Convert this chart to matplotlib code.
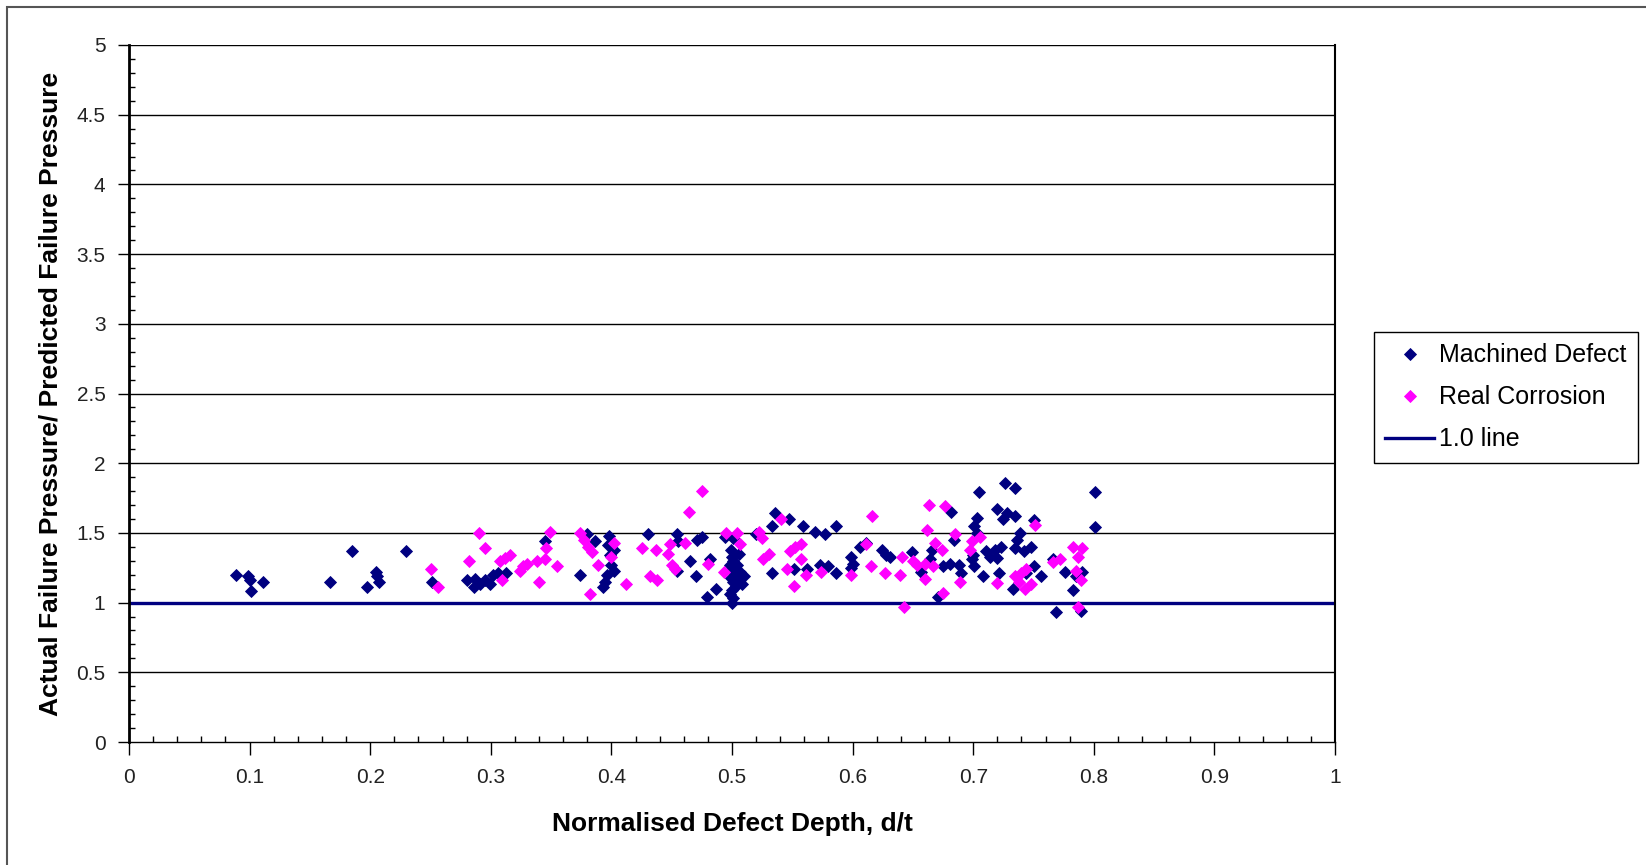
"""
Actual / predicted failure pressure against normalised defect depth,
machined defects vs real corrosion, with the 1.0 reference line.
Writes out.png.
"""

import matplotlib
matplotlib.use("Agg")
import matplotlib.pyplot as plt
from matplotlib.patches import Rectangle
from matplotlib.ticker import MultipleLocator

# ---------------------------------------------------------------
# Data
# ---------------------------------------------------------------
machined_x = [
    0.089, 0.099, 0.100, 0.101, 0.111, 0.167, 0.185, 0.197, 0.205, 0.206,
    0.207, 0.230, 0.251, 0.280, 0.287, 0.286, 0.291, 0.295, 0.299, 0.302,
    0.306, 0.313, 0.345, 0.380, 0.386, 0.374, 0.393, 0.395, 0.396, 0.398,
    0.397, 0.399, 0.400, 0.402, 0.402, 0.430, 0.454, 0.455, 0.454, 0.465,
    0.470, 0.471, 0.475, 0.482, 0.479, 0.487, 0.494,
    0.499, 0.500, 0.501, 0.498, 0.500, 0.502, 0.499, 0.501, 0.503, 0.500,
    0.498, 0.501, 0.500, 0.505, 0.507, 0.508, 0.510, 0.504, 0.506, 0.501,
    0.536, 0.533, 0.547, 0.559, 0.569, 0.577, 0.586, 0.520, 0.533, 0.551,
    0.562, 0.573, 0.580, 0.586, 0.599, 0.600, 0.599, 0.606, 0.611, 0.624,
    0.628, 0.631,
    0.649, 0.666, 0.664, 0.657, 0.675, 0.681, 0.688, 0.682, 0.671, 0.690,
    0.684, 0.705, 0.703, 0.701, 0.703, 0.700, 0.699, 0.701, 0.708, 0.726,
    0.735, 0.720, 0.728, 0.735, 0.725, 0.711, 0.714, 0.718, 0.723, 0.720,
    0.721, 0.739, 0.736, 0.735, 0.742, 0.748, 0.750, 0.733, 0.744, 0.750,
    0.756, 0.766, 0.776, 0.769, 0.783, 0.785, 0.790, 0.789, 0.801, 0.801,
]
machined_y = [
    1.20, 1.19, 1.16, 1.08, 1.15, 1.15, 1.37, 1.11, 1.22, 1.19,
    1.15, 1.37, 1.15, 1.16, 1.17, 1.11, 1.13, 1.16, 1.13, 1.20,
    1.21, 1.21, 1.44, 1.49, 1.44, 1.20, 1.11, 1.15, 1.20, 1.48,
    1.41, 1.34, 1.27, 1.23, 1.38, 1.49, 1.49, 1.44, 1.23, 1.30,
    1.19, 1.45, 1.47, 1.31, 1.04, 1.10, 1.47,
    1.38, 1.33, 1.30, 1.27, 1.24, 1.21, 1.18, 1.15, 1.12, 1.09,
    1.06, 1.03, 1.00, 1.16, 1.22, 1.13, 1.19, 1.27, 1.35, 1.46,
    1.64, 1.55, 1.60, 1.55, 1.51, 1.49, 1.55, 1.49, 1.21, 1.24,
    1.24, 1.27, 1.26, 1.21, 1.33, 1.28, 1.25, 1.40, 1.43, 1.38,
    1.34, 1.33,
    1.36, 1.38, 1.31, 1.22, 1.26, 1.28, 1.27, 1.65, 1.04, 1.21,
    1.45, 1.79, 1.61, 1.55, 1.50, 1.34, 1.31, 1.26, 1.19, 1.86,
    1.82, 1.67, 1.64, 1.62, 1.60, 1.37, 1.33, 1.38, 1.40, 1.32,
    1.21, 1.50, 1.45, 1.39, 1.37, 1.40, 1.59, 1.10, 1.21, 1.26,
    1.19, 1.31, 1.22, 0.93, 1.09, 1.19, 1.22, 0.94, 1.79, 1.54,
]

corrosion_x = [
    0.250, 0.256, 0.290, 0.295, 0.282, 0.309, 0.308, 0.312, 0.316, 0.324,
    0.327, 0.330, 0.338, 0.345, 0.346, 0.349, 0.355, 0.340, 0.374, 0.377,
    0.381, 0.384, 0.382, 0.389, 0.402, 0.400, 0.412, 0.425, 0.437, 0.432,
    0.438, 0.449, 0.447, 0.450, 0.453, 0.464, 0.475, 0.461, 0.480, 0.495,
    0.493, 0.504, 0.507, 0.541, 0.522, 0.525, 0.531, 0.526, 0.548, 0.552,
    0.557, 0.557, 0.546, 0.561, 0.551, 0.574, 0.599, 0.611, 0.616, 0.615,
    0.627, 0.639, 0.641, 0.643, 0.650, 0.653, 0.660, 0.667, 0.660, 0.663,
    0.677, 0.662, 0.668, 0.685, 0.674, 0.689, 0.675, 0.699, 0.697, 0.706,
    0.751, 0.735, 0.738, 0.743, 0.748, 0.744, 0.740, 0.766, 0.772, 0.783,
    0.790, 0.787, 0.785, 0.789, 0.787, 0.720,
]
corrosion_y = [
    1.24, 1.11, 1.50, 1.39, 1.30, 1.16, 1.30, 1.32, 1.34, 1.23,
    1.26, 1.28, 1.30, 1.31, 1.39, 1.51, 1.26, 1.15, 1.50, 1.45,
    1.40, 1.36, 1.06, 1.27, 1.43, 1.33, 1.13, 1.39, 1.38, 1.19,
    1.16, 1.42, 1.35, 1.27, 1.24, 1.65, 1.80, 1.43, 1.28, 1.50,
    1.22, 1.50, 1.42, 1.60, 1.51, 1.46, 1.35, 1.31, 1.37, 1.40,
    1.42, 1.31, 1.24, 1.20, 1.12, 1.22, 1.20, 1.42, 1.62, 1.26,
    1.21, 1.20, 1.33, 0.97, 1.30, 1.27, 1.28, 1.26, 1.17, 1.70,
    1.69, 1.52, 1.43, 1.49, 1.38, 1.15, 1.07, 1.44, 1.38, 1.47,
    1.56, 1.19, 1.15, 1.10, 1.13, 1.24, 1.21, 1.29, 1.31, 1.40,
    1.39, 1.33, 1.23, 1.16, 0.97, 1.14,
]

ref_x = [0, 1]
ref_y = [1.0, 1.0]

NAVY = "#000080"
MAGENTA = "#FF00FF"

plt.rcParams["font.family"] = ["Liberation Sans", "DejaVu Sans"]

fig = plt.figure(figsize=(16.46, 8.65), dpi=100)
ax = fig.add_axes([129 / 1646, 1 - 742 / 865, 1206 / 1646, 697 / 865])

# outer chart frame
fig.patches.append(Rectangle((7 / 1646, -0.02), 1.05, 0.992 + 0.02,
                             transform=fig.transFigure, fill=False,
                             edgecolor="#555555", linewidth=1.5))

ax.plot(ref_x, ref_y, color=NAVY, linewidth=2.4, zorder=2, label="1.0 line")
ax.plot(machined_x, machined_y, linestyle="none", marker="D", markersize=6.6,
        color=NAVY, markeredgewidth=0.6, zorder=3, label="Machined Defect")
ax.plot(corrosion_x, corrosion_y, linestyle="none", marker="D", markersize=6.6,
        color=MAGENTA, markeredgewidth=0.6, zorder=4, label="Real Corrosion")

ax.set_xlim(0, 1)
ax.set_ylim(0, 5)
ax.xaxis.set_major_locator(MultipleLocator(0.1))
ax.xaxis.set_minor_locator(MultipleLocator(0.02))
ax.yaxis.set_major_locator(MultipleLocator(0.5))
ax.yaxis.set_minor_locator(MultipleLocator(0.1))
ax.set_xticklabels([f"{v:g}" for v in [i / 10 for i in range(-1, 12)]])
ax.set_yticklabels([f"{v:g}" for v in [i / 2 for i in range(-1, 12)]])

for val in [i / 2 for i in range(1, 11)]:
    ax.axhline(val, color="black", linewidth=1.0, zorder=1)

ax.spines["top"].set_visible(False)
ax.spines["left"].set_linewidth(2.0)
ax.spines["right"].set_linewidth(1.5)
ax.spines["bottom"].set_linewidth(1.0)

ax.tick_params(axis="x", which="major", direction="out", length=9, width=1,
               pad=10, labelsize=15, labelcolor="#222222")
ax.tick_params(axis="x", which="minor", direction="in", length=4, width=1)
ax.tick_params(axis="y", which="major", direction="out", length=8, width=1,
               pad=9, labelsize=15, labelcolor="#222222")
ax.tick_params(axis="y", which="minor", direction="in", length=4, width=1)

ax.set_xlabel("Normalised Defect Depth, d/t", fontsize=19, fontweight="bold")
ax.set_ylabel("Actual Failure Pressure/ Predicted Failure Pressure",
              fontsize=19, fontweight="bold")
ax.xaxis.set_label_coords(0.5, -0.100)
ax.yaxis.set_label_coords(-0.055, 0.5)

handles, labels = ax.get_legend_handles_labels()
order = [1, 2, 0]
leg = fig.legend([handles[i] for i in order], [labels[i] for i in order],
                 loc="upper left", bbox_to_anchor=(1374 / 1646, 1 - 332 / 865),
                 borderaxespad=0, fontsize=18, frameon=True, fancybox=False,
                 framealpha=1, edgecolor="black", handlelength=1.95,
                 handletextpad=0.2, labelspacing=0.72, borderpad=0.45,
                 markerscale=0.9)
leg.get_frame().set_linewidth(1.0)

fig.savefig("out.png", dpi=100)
